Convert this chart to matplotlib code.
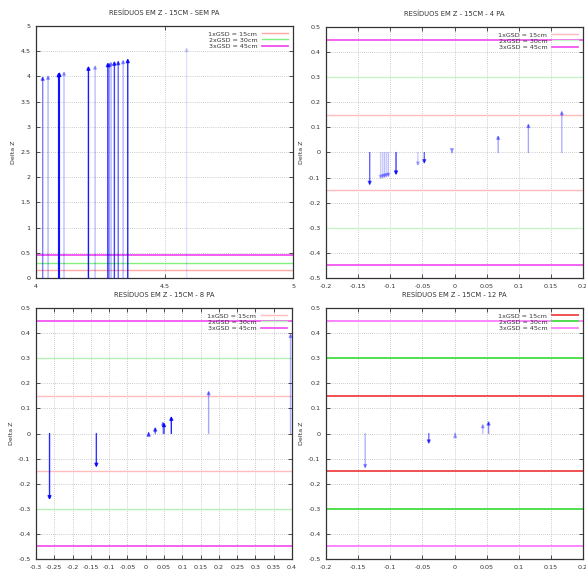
import numpy as np
import matplotlib
matplotlib.use("Agg")
import matplotlib.pyplot as plt
from matplotlib.ticker import FuncFormatter, MultipleLocator

# dados dos residuos (x = posicao, dz = residuo em Z)
titulos = ["RESÍDUOS EM Z - 15CM - SEM PA", "RESÍDUOS EM Z - 15CM - 4 PA",
           "RESÍDUOS EM Z - 15CM - 8 PA", "RESÍDUOS EM Z - 15CM - 12 PA"]
gsd_nomes = ["1xGSD = 15cm", "2xGSD = 30cm", "3xGSD = 45cm"]
gsd_val = [0.15, 0.30, 0.45]

p1_x = [4.026, 4.047, 4.088, 4.091, 4.109, 4.204, 4.230, 4.279, 4.284, 4.292, 4.305, 4.320, 4.339, 4.357, 4.586]
p1_dz = [4.01, 4.03, 4.08, 4.09, 4.11, 4.21, 4.23, 4.28, 4.28, 4.30, 4.31, 4.32, 4.34, 4.36, 4.58]

p2_x = [-0.132, -0.115, -0.112, -0.109, -0.106, -0.103, -0.091, -0.057, -0.047, -0.004, 0.068, 0.115, 0.167]
p2_dz = [-0.132, -0.108, -0.106, -0.104, -0.102, -0.100, -0.091, -0.055, -0.046, -0.002, 0.070, 0.117, 0.168]

p3_x = [-0.263, -0.135, 0.008, 0.026, 0.047, 0.050, 0.070, 0.172, 0.396]
p3_dz = [-0.265, -0.136, 0.007, 0.027, 0.050, 0.045, 0.070, 0.172, 0.400]

p4_x = [-0.139, -0.040, 0.001, 0.044, 0.053]
p4_dz = [-0.141, -0.043, 0.001, 0.040, 0.051]

# transparencia de cada seta
p1_alpha = [0.5, 0.3, 0.9, 0.9, 0.25, 0.9, 0.25, 0.7, 0.55, 0.3, 0.75, 0.6, 0.3, 0.85, 0.12]
p2_alpha = [0.6, 0.2, 0.2, 0.25, 0.2, 0.25, 0.75, 0.2, 0.6, 0.3, 0.35, 0.35, 0.3]
p3_alpha = [0.85, 0.8, 0.6, 0.6, 0.3, 0.8, 0.85, 0.35, 0.3]
p4_alpha = [0.3, 0.55, 0.3, 0.25, 0.45]

# posicoes dos eixos em pixels (esq, topo, dir, base)
W, H = 586, 570
caixas = [(36, 26, 293, 278), (326, 27, 583, 278), (36, 308, 292, 559), (326, 308, 583, 559)]
limites = [((4, 5), (0, 5), 0.5, 0.5),
           ((-0.2, 0.2), (-0.5, 0.5), 0.05, 0.1),
           ((-0.3, 0.4), (-0.5, 0.5), 0.05, 0.1),
           ((-0.2, 0.2), (-0.5, 0.5), 0.05, 0.1)]
cores_gsd = [["#ffa8a8", "#80f080", "#f040f0"],
             ["#ffbcbc", "#c8f5c8", "#f048f0"],
             ["#ffbcbc", "#b8f0b8", "#f048f0"],
             ["#f05050", "#50e050", "#ff70ff"]]
larg_gsd = [[1, 1, 1.2], [1, 1, 1.2], [1, 1, 1.2], [1.4, 1.4, 1.2]]

dados = [(p1_x, p1_dz, p1_alpha), (p2_x, p2_dz, p2_alpha),
         (p3_x, p3_dz, p3_alpha), (p4_x, p4_dz, p4_alpha)]

fmt = FuncFormatter(lambda v, p: '%g' % (round(v, 6) + 0.0))

fig = plt.figure(figsize=(W / 100, H / 100), dpi=100)
fs = 4.6

for k in range(4):
    l, t, r, b = caixas[k]
    ax = fig.add_axes([l / W, 1 - b / H, (r - l) / W, (b - t) / H])
    xl, yl, dx, dy = limites[k]
    ax.set_xlim(xl)
    ax.set_ylim(yl)
    ax.xaxis.set_major_locator(MultipleLocator(dx))
    ax.yaxis.set_major_locator(MultipleLocator(dy))
    ax.xaxis.set_major_formatter(fmt)
    ax.yaxis.set_major_formatter(fmt)
    ax.tick_params(direction='in', length=3, width=0.6, labelsize=fs, colors='#333333',
                   top=True, right=True, pad=4)
    ax.grid(True, color='#a0a0a0', linestyle=(0, (1, 2)), linewidth=0.5)
    for s in ax.spines.values():
        s.set_color('#333333')
        s.set_linewidth(0.9)

    for j in range(3):
        c = cores_gsd[k][j]
        ax.axhline(gsd_val[j], color=c, lw=larg_gsd[k][j], label=gsd_nomes[j], zorder=2)
        ax.axhline(-gsd_val[j], color=c, lw=larg_gsd[k][j], zorder=2)

    xs, dzs, als = dados[k]
    for x, dz, a in zip(xs, dzs, als):
        ax.annotate('', xy=(x, dz), xytext=(x, 0),
                    arrowprops=dict(arrowstyle='-|>', color='#0000ff', alpha=a, lw=1.0,
                                    mutation_scale=5, shrinkA=0, shrinkB=0), zorder=3)

    ax.set_title(titulos[k], fontsize=fs + 0.3, pad=8, color='#333333')
    ax.set_ylabel("Delta Z", fontsize=fs, labelpad=3, color='#333333')
    leg = ax.legend(loc='upper right', frameon=False, fontsize=fs, markerfirst=False,
                    handlelength=4, handletextpad=0.8, labelspacing=0.1,
                    borderaxespad=0.4)
    for txt in leg.get_texts():
        txt.set_color('#333333')

fig.savefig("out.png", dpi=100)
